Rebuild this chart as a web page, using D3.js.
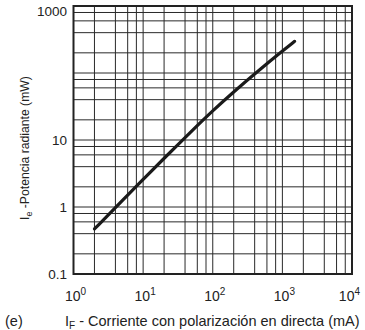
<!DOCTYPE html>
<html><head><meta charset="utf-8">
<script src="https://cdn.jsdelivr.net/npm/d3@7"></script>
<style>body{margin:0;background:#fff}svg{display:block;font-family:"Liberation Sans",Arial,sans-serif}</style>
</head><body><svg id="c" width="365" height="330"></svg>
<script>
const currentMA = [2, 5, 10, 20, 50, 100, 200, 500, 1000, 1500];
const powerMW   = [0.47, 1.24, 2.58, 5.33, 13.7, 27.4, 52.6, 118, 212, 297];
const xTickExp = [0, 1, 2, 3, 4];
const yTickLabels = [["0.1",0.1],["1",1],["10",10],["1000",1000]];
const gridMult = [1, 2, 4, 6, 8];

const svg = d3.select("#c");
const L = 73.5, R = 352, T = 6, B = 274;
const x = d3.scaleLog().domain([1, 1e4]).range([L, R]);
const y = d3.scaleLog().domain([0.1, 1000]).range([B, T]);

const xs = [], ys = [];
for (let e = 0; e < 4; e++) gridMult.forEach(m => { xs.push(m * 10 ** e); ys.push(m * 10 ** (e - 1)); });
const g = svg.append("g");
g.selectAll(".vx").data(xs).join("line")
  .attr("x1", d => x(d)).attr("x2", d => x(d)).attr("y1", T).attr("y2", B)
  .attr("stroke", "#2a2a2a").attr("stroke-width", 1);
g.selectAll(".hy").data(ys).join("line")
  .attr("y1", d => y(d)).attr("y2", d => y(d)).attr("x1", L).attr("x2", R)
  .attr("stroke", "#2a2a2a").attr("stroke-width", 1);

svg.append("rect").attr("x", L).attr("y", T).attr("width", R - L).attr("height", B - T)
  .attr("fill", "none").attr("stroke", "#222").attr("stroke-width", 2);

const line = d3.line().x((d, i) => x(currentMA[i])).y(d => y(d)).curve(d3.curveBasis);
svg.append("path").datum(powerMW).attr("d", line).attr("fill", "none")
  .attr("stroke", "#1a1a1a").attr("stroke-width", 3.2).attr("stroke-linecap", "round");

// y tick labels
svg.selectAll(".yl").data(yTickLabels).join("text")
  .attr("x", 67).attr("y", d => Math.max(y(d[1]) , 11) + 5)
  .attr("text-anchor", "end").attr("font-size", 13.5).attr("fill", "#222")
  .text(d => d[0]);

// x tick labels
const xl = svg.selectAll(".xl").data(xTickExp).join("text")
  .attr("x", d => d === 4 ? 360 : x(10 ** d) + 2).attr("y", 301)
  .attr("text-anchor", d => d === 4 ? "end" : "middle").attr("font-size", 14).attr("fill", "#222");
xl.append("tspan").text("10");
xl.append("tspan").attr("dy", -6).attr("font-size", 10).text(d => d);

// x title
const xt = svg.append("text").attr("x", 65).attr("y", 326).attr("font-size", 14.5).attr("fill", "#222");
xt.append("tspan").text("I");
xt.append("tspan").attr("dy", 3).attr("font-size", 10).text("F");
xt.append("tspan").attr("dy", -3).text(" - Corriente con polarización en directa (mA)");
svg.append("text").attr("x", 5).attr("y", 326).attr("font-size", 14.5).attr("fill", "#222").text("(e)");

// y title
const yt = svg.append("text").attr("transform", "translate(29,220) rotate(-90)")
  .attr("font-size", 12.2).attr("fill", "#222");
yt.append("tspan").text("I");
yt.append("tspan").attr("dy", 3).attr("font-size", 9).text("e");
yt.append("tspan").attr("dy", -3).text(" -Potencia radiante (mW)");
</script></body></html>
